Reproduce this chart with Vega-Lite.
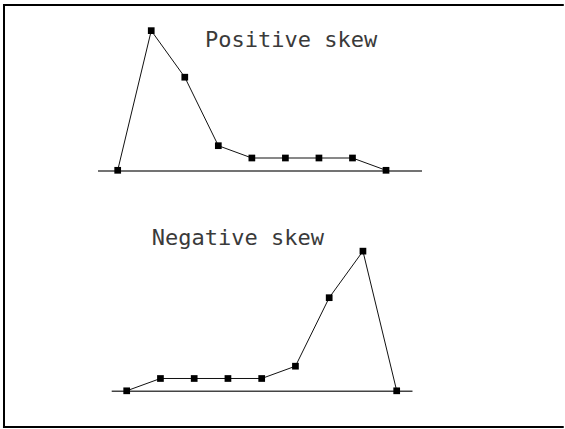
{
  "$schema": "https://vega.github.io/schema/vega-lite/v6.json",
  "padding": 0,
  "spacing": 0,
  "bounds": "flush",
  "background": "white",
  "config": {"view": {"stroke": null}, "concat": {"spacing": 0}},
  "datasets": {
    "positive": [
      {"bin": 0, "freq": 0},
      {"bin": 1, "freq": 21},
      {"bin": 2, "freq": 14},
      {"bin": 3, "freq": 3.7},
      {"bin": 4, "freq": 1.85},
      {"bin": 5, "freq": 1.85},
      {"bin": 6, "freq": 1.85},
      {"bin": 7, "freq": 1.85},
      {"bin": 8, "freq": 0}
    ],
    "negative": [
      {"bin": 0, "freq": 0},
      {"bin": 1, "freq": 1.85},
      {"bin": 2, "freq": 1.85},
      {"bin": 3, "freq": 1.85},
      {"bin": 4, "freq": 1.85},
      {"bin": 5, "freq": 3.7},
      {"bin": 6, "freq": 14},
      {"bin": 7, "freq": 21},
      {"bin": 8, "freq": 0}
    ],
    "one": [{}]
  },
  "vconcat": [
    {
      "width": 565,
      "height": 214,
      "layer": [
        {
          "data": {"name": "one"},
          "mark": {"type": "rule", "color": "#000000", "strokeWidth": 2},
          "encoding": {
            "x": {"datum": -3.42, "type": "quantitative", "scale": {"domain": [-3.509, 13.336], "nice": false, "zero": false}, "axis": null},
            "x2": {"datum": 13.3},
            "y": {"datum": 24.86, "type": "quantitative", "scale": {"domain": [-6.571, 25.609], "nice": false, "zero": false}, "axis": null}
          }
        },
        {
          "data": {"name": "one"},
          "mark": {"type": "rule", "color": "#000000", "strokeWidth": 2},
          "encoding": {
            "x": {"datum": -3.39, "type": "quantitative"},
            "y": {"datum": 25.0, "type": "quantitative"},
            "y2": {"datum": -6.571}
          }
        },
        {
          "data": {"name": "one"},
          "mark": {"type": "rule", "color": "#444444", "strokeWidth": 1.5},
          "encoding": {
            "x": {"datum": -0.587, "type": "quantitative"},
            "x2": {"datum": 9.073},
            "y": {"datum": -0.1, "type": "quantitative"}
          }
        },
        {
          "data": {"name": "positive"},
          "mark": {"type": "line", "color": "#111111", "strokeWidth": 1},
          "encoding": {
            "x": {"field": "bin", "type": "quantitative"},
            "y": {"field": "freq", "type": "quantitative"}
          }
        },
        {
          "data": {"name": "positive"},
          "mark": {"type": "point", "shape": "square", "filled": true, "size": 45, "color": "#000000", "opacity": 1},
          "encoding": {
            "x": {"field": "bin", "type": "quantitative"},
            "y": {"field": "freq", "type": "quantitative"}
          }
        },
        {
          "data": {"name": "one"},
          "mark": {"type": "text", "text": "Positive skew", "font": "DejaVu Sans Mono", "fontSize": 22, "color": "#3a3a3a", "align": "left", "baseline": "alphabetic"},
          "encoding": {
            "x": {"datum": 2.603, "type": "quantitative"},
            "y": {"datum": 18.54, "type": "quantitative"}
          }
        }
      ]
    },
    {
      "width": 565,
      "height": 215,
      "layer": [
        {
          "data": {"name": "one"},
          "mark": {"type": "rule", "color": "#000000", "strokeWidth": 2},
          "encoding": {
            "x": {"datum": -3.636, "type": "quantitative", "scale": {"domain": [-3.754, 12.987], "nice": false, "zero": false}, "axis": null},
            "y": {"datum": 26.586, "type": "quantitative", "scale": {"domain": [-5.744, 26.586], "nice": false, "zero": false}, "axis": null},
            "y2": {"datum": -5.594}
          }
        },
        {
          "data": {"name": "one"},
          "mark": {"type": "rule", "color": "#000000", "strokeWidth": 2},
          "encoding": {
            "x": {"datum": -3.666, "type": "quantitative"},
            "x2": {"datum": 12.95},
            "y": {"datum": -5.444, "type": "quantitative"}
          }
        },
        {
          "data": {"name": "one"},
          "mark": {"type": "rule", "color": "#444444", "strokeWidth": 1.5},
          "encoding": {
            "x": {"datum": -0.444, "type": "quantitative"},
            "x2": {"datum": 8.468},
            "y": {"datum": -0.05, "type": "quantitative"}
          }
        },
        {
          "data": {"name": "negative"},
          "mark": {"type": "line", "color": "#111111", "strokeWidth": 1},
          "encoding": {
            "x": {"field": "bin", "type": "quantitative"},
            "y": {"field": "freq", "type": "quantitative"}
          }
        },
        {
          "data": {"name": "negative"},
          "mark": {"type": "point", "shape": "square", "filled": true, "size": 45, "color": "#000000", "opacity": 1},
          "encoding": {
            "x": {"field": "bin", "type": "quantitative"},
            "y": {"field": "freq", "type": "quantitative"}
          }
        },
        {
          "data": {"name": "one"},
          "mark": {"type": "text", "text": "Negative skew", "font": "DejaVu Sans Mono", "fontSize": 22, "color": "#3a3a3a", "align": "left", "baseline": "alphabetic"},
          "encoding": {
            "x": {"datum": 0.741, "type": "quantitative"},
            "y": {"datum": 21.92, "type": "quantitative"}
          }
        }
      ]
    }
  ]
}
